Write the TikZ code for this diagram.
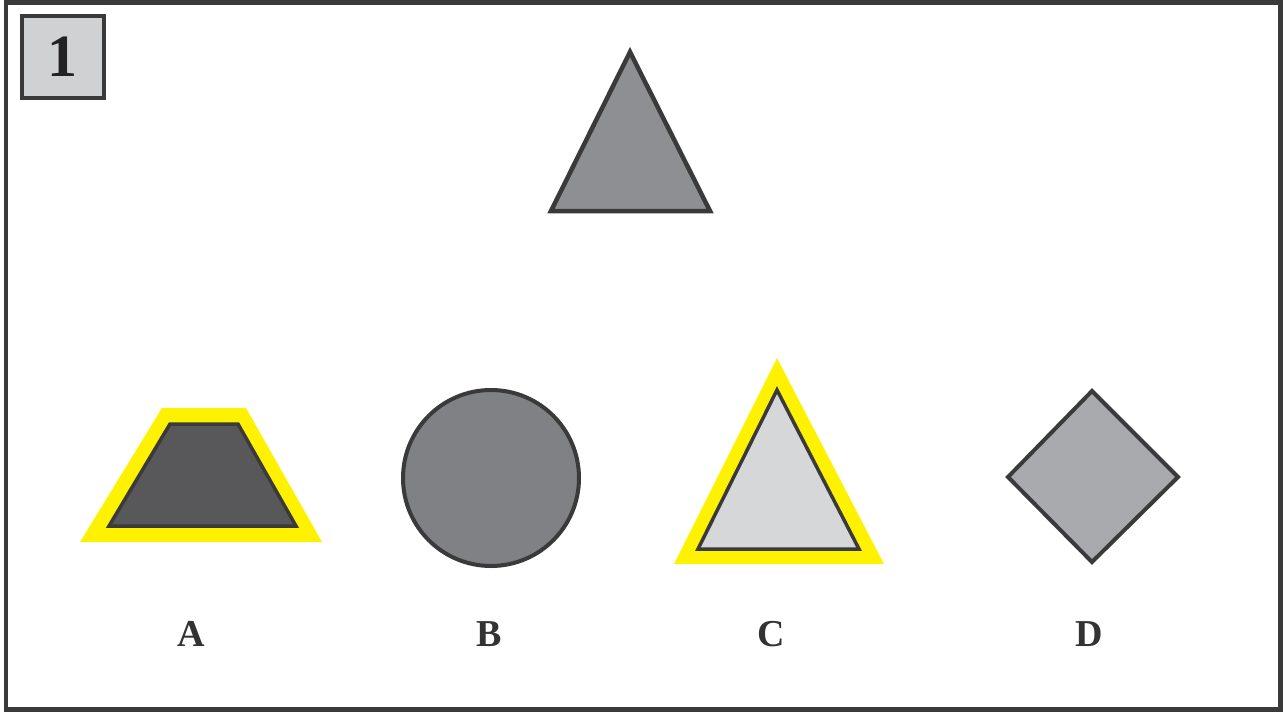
\documentclass[tikz,border=0pt]{standalone}
\usepackage{fontspec}
\setmainfont{Liberation Serif}
\begin{document}
\begin{tikzpicture}[x=1pt,y=-1pt,
  edge/.style={draw=dkline,line width=4pt,line join=miter},
  glow/.style={fill=hiyellow,draw=none},
  lbl/.style={font=\fontsize{38}{40}\selectfont\bfseries,text=txtgray,inner sep=0pt,anchor=base}]
\definecolor{dkline}{HTML}{3A3A3B}
\definecolor{hiyellow}{HTML}{FFF200}
\definecolor{txtgray}{HTML}{333333}
\useasboundingbox (0,0) rectangle (1283,712);
\fill[white] (0,0) rectangle (1283,712);
% frame
\draw[dkline,line width=4.5pt] (6,2.5) rectangle (1280.5,709.5);
% number box
\draw[fill={rgb,255:red,208;green,209;blue,211},draw=dkline,line width=3.2pt] (22,16) rectangle (104,98);
\node[font=\fontsize{60}{62}\selectfont\bfseries,text={rgb,255:red,34;green,34;blue,34},inner sep=0pt] (num) at (62,57) {1};
% top triangle
\path[edge,line width=4.5pt,fill={rgb,255:red,142;green,143;blue,146}] (630,52) -- (710,211) -- (551,211) -- cycle;
% A trapezoid
\fill[glow] (162,408) -- (246,408) -- (322,542) -- (80,542) -- cycle;
\path[edge,line width=3.5pt,fill={rgb,255:red,88;green,88;blue,90}] (170,424) -- (238,424) -- (296,526) -- (109,526) -- cycle;
% B circle
\path[edge,fill={rgb,255:red,128;green,129;blue,132}] (491,478) circle (88);
% C triangle
\fill[glow] (777,358) -- (884,564) -- (674,564) -- cycle;
\path[edge,line width=3.5pt,fill={rgb,255:red,214;green,215;blue,217}] (777,390) -- (859,549) -- (698,549) -- cycle;
% D diamond
\path[edge,fill={rgb,255:red,169;green,170;blue,173}] (1092,391) -- (1178,477) -- (1092,562) -- (1008,477) -- cycle;
% labels
\node[lbl] (la) at (191,646) {A};
\node[lbl] (lb) at (489,646) {B};
\node[lbl] (lc) at (771,646) {C};
\node[lbl] (ld) at (1089,646) {D};
\end{tikzpicture}
\end{document}
